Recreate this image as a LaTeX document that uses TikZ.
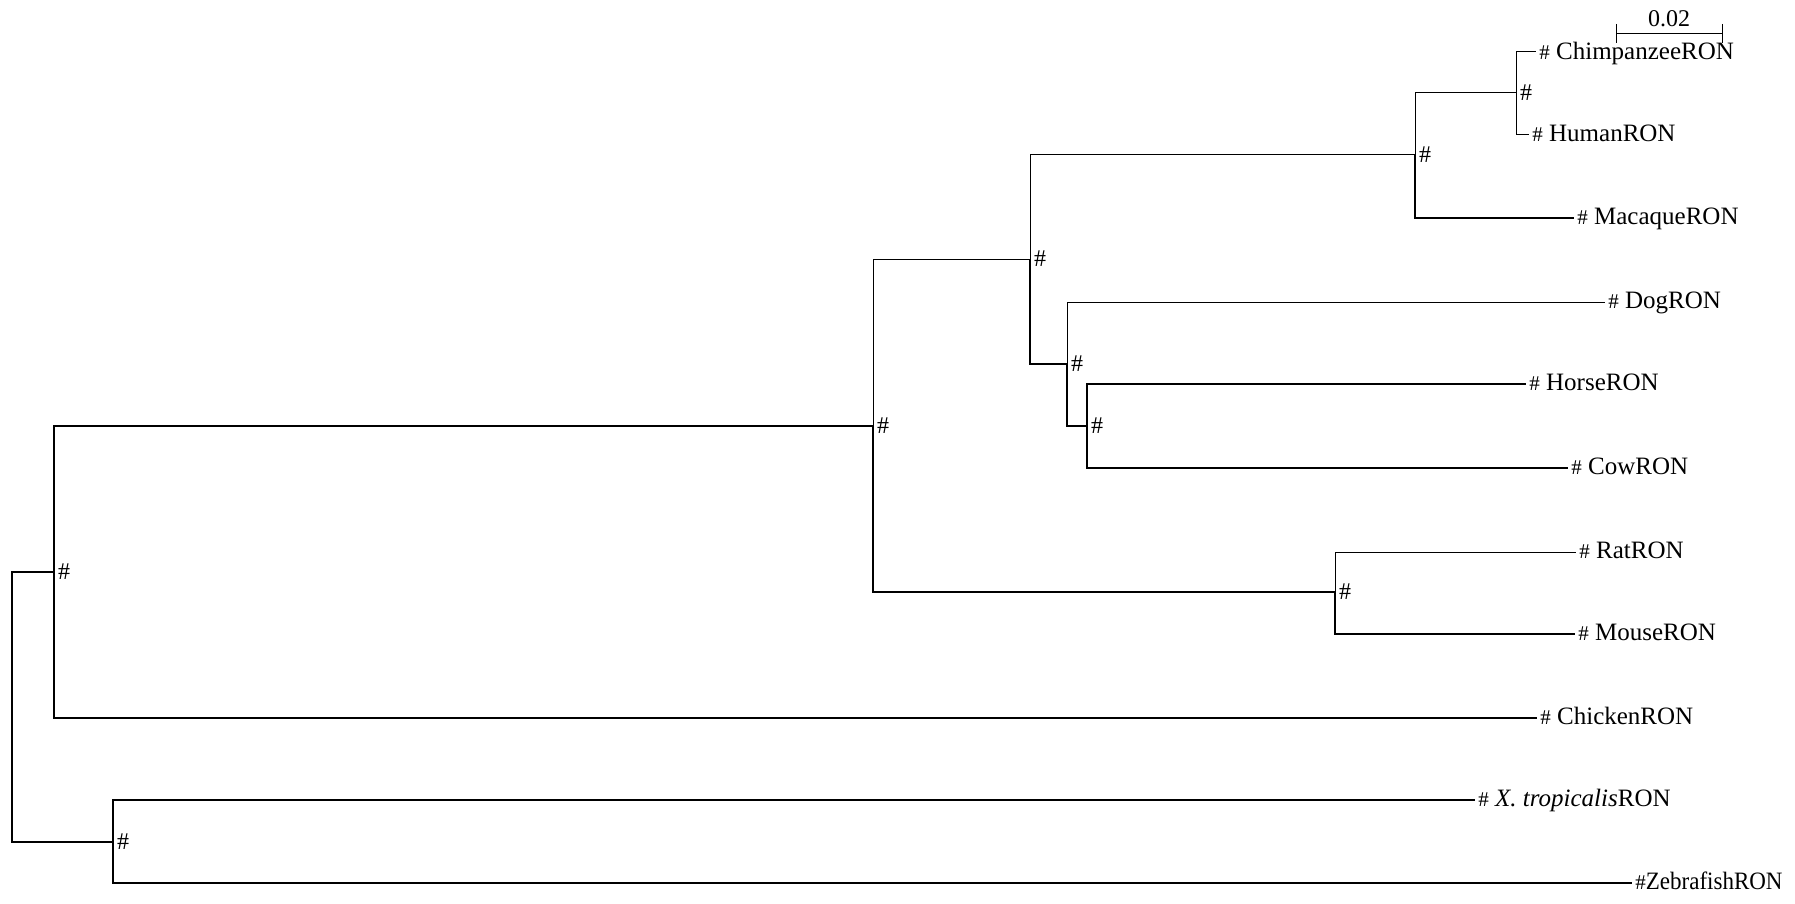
\documentclass[tikz,border=0pt]{standalone}
\usepackage{fontspec}
\setmainfont{Liberation Serif}
\newcommand\lhash{{\fontsize{10.5}{12}\selectfont\#}}
\begin{document}
\begin{tikzpicture}[x=0.5pt,y=-0.5pt,
  thinedge/.style={line width=0.5pt},
  thickedge/.style={line width=0.8pt},
  leaf/.style={anchor=base west, inner sep=0pt, xshift=1.5pt, yshift=-3.25pt, font=\fontsize{12.5}{14}\selectfont},
  hashlbl/.style={anchor=west, inner sep=0pt, xshift=1.8pt, font=\fontsize{12}{14}\selectfont},
  sblabel/.style={anchor=base, inner sep=0pt, font=\fontsize{12}{14}\selectfont}]
\useasboundingbox (0,0) rectangle (1795,904);
% internal nodes
\coordinate (R)  at (12,707);
\coordinate (A)  at (54,572);
\coordinate (M)  at (873,426);
\coordinate (B)  at (1030,259);
\coordinate (P)  at (1415,155);
\coordinate (CH) at (1516,93);
\coordinate (L)  at (1067,364);
\coordinate (HC) at (1087,426);
\coordinate (RM) at (1335,592);
\coordinate (F)  at (113,842);
% leaf tips
\coordinate (chimp)   at (1536,52);
\coordinate (human)   at (1529,135);
\coordinate (macaque) at (1574,218);
\coordinate (dog)     at (1605,302);
\coordinate (horse)   at (1526,384);
\coordinate (cow)     at (1568,468);
\coordinate (rat)     at (1576,552);
\coordinate (mouse)   at (1575,634);
\coordinate (chicken) at (1537,718);
\coordinate (xtrop)   at (1475,800);
\coordinate (zebra)   at (1632,883);
% edges
\draw[thickedge] (R) |- (A);
\draw[thickedge] (R) |- (F);
\draw[thickedge] (A) |- (M);
\draw[thickedge] (A) |- (chicken);
\draw[thinedge]  (M) |- (B);
\draw[thickedge] (M) |- (RM);
\draw[thinedge]  (B) |- (P);
\draw[thickedge] (B) |- (L);
\draw[thinedge]  (P) |- (CH);
\draw[thickedge] (P) |- (macaque);
\draw[thinedge]  (CH) |- (chimp);
\draw[thinedge]  (CH) |- (human);
\draw[thinedge]  (L) |- (dog);
\draw[thickedge] (L) |- (HC);
\draw[thickedge] (HC) |- (horse);
\draw[thickedge] (HC) |- (cow);
\draw[thinedge]  (RM) |- (rat);
\draw[thickedge] (RM) |- (mouse);
\draw[thickedge] (F) |- (xtrop);
\draw[thickedge] (F) |- (zebra);
% internal labels
\foreach \n in {A,M,B,P,CH,L,HC,RM,F}
  \node[hashlbl] (h\n) at (\n) {\#};
% leaf labels
\node[leaf, yshift=-0.75pt] (lchimp) at (chimp) {\lhash{} ChimpanzeeRON};
\node[leaf] (lhuman)   at (human)   {\lhash{} HumanRON};
\node[leaf] (lmacaque) at (macaque) {\lhash{} MacaqueRON};
\node[leaf] (ldog)     at (dog)     {\lhash{} DogRON};
\node[leaf] (lhorse)   at (horse)   {\lhash{} HorseRON};
\node[leaf] (lcow)     at (cow)     {\lhash{} CowRON};
\node[leaf] (lrat)     at (rat)     {\lhash{} RatRON};
\node[leaf] (lmouse)   at (mouse)   {\lhash{} MouseRON};
\node[leaf] (lchicken) at (chicken) {\lhash{} ChickenRON};
\node[leaf] (lxtrop)   at (xtrop)   {\lhash{} \textit{X. tropicalis}RON};
\node[leaf] (lzebra)   at (zebra)   {\lhash{}\scalebox{0.92}[1]{ZebrafishRON}};
% scale bar
\coordinate (sb1) at (1616,34);
\coordinate (sb2) at (1722,34);
\draw[thinedge] (sb1) -- (sb2);
\draw[thinedge] ([yshift=5pt]sb1) -- ([yshift=-4.5pt]sb1);
\draw[thinedge] ([yshift=5pt]sb2) -- ([yshift=-4.5pt]sb2);
\node[sblabel] (sbl) at (1669,27) {0.02};
\end{tikzpicture}
\end{document}
